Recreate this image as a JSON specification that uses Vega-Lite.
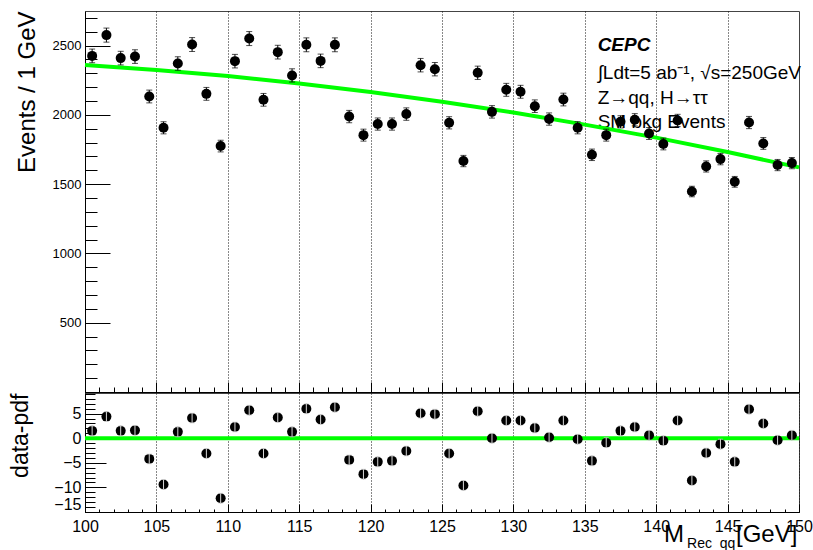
{
  "$schema": "https://vega.github.io/schema/vega-lite/v6.json",
  "background": "white",
  "padding": {"left": 8, "top": 10, "right": 0, "bottom": 0},
  "bounds": "flush",
  "spacing": 1,
  "config": {
    "font": "Liberation Sans",
    "view": {"stroke": "#444", "strokeWidth": 1},
    "axis": {
      "domainColor": "#000",
      "domainWidth": 1,
      "tickColor": "#000",
      "tickWidth": 1,
      "labelColor": "#000",
      "titleColor": "#000",
      "titleFontWeight": "normal",
      "labelFont": "Liberation Sans",
      "titleFont": "Liberation Sans",
      "grid": false
    }
  },
  "datasets": {
    "bins": [
      {"m": 100.5, "events": 2426, "err": 49.3, "pull": 1.5, "perr": 1},
      {"m": 101.5, "events": 2576, "err": 50.8, "pull": 4.4, "perr": 1},
      {"m": 102.5, "events": 2410, "err": 49.1, "pull": 1.5, "perr": 1},
      {"m": 103.5, "events": 2421, "err": 49.2, "pull": 1.6, "perr": 1},
      {"m": 104.5, "events": 2133, "err": 46.2, "pull": -4.2, "perr": 1},
      {"m": 105.5, "events": 1907, "err": 43.7, "pull": -9.4, "perr": 1},
      {"m": 106.5, "events": 2371, "err": 48.7, "pull": 1.3, "perr": 1},
      {"m": 107.5, "events": 2508, "err": 50.1, "pull": 4.1, "perr": 1},
      {"m": 108.5, "events": 2152, "err": 46.4, "pull": -3.1, "perr": 1},
      {"m": 109.5, "events": 1775, "err": 42.1, "pull": -12.2, "perr": 1},
      {"m": 110.5, "events": 2388, "err": 48.9, "pull": 2.3, "perr": 1},
      {"m": 111.5, "events": 2551, "err": 50.5, "pull": 5.7, "perr": 1},
      {"m": 112.5, "events": 2109, "err": 45.9, "pull": -3.1, "perr": 1},
      {"m": 113.5, "events": 2453, "err": 49.5, "pull": 4.2, "perr": 1},
      {"m": 114.5, "events": 2285, "err": 47.8, "pull": 1.3, "perr": 1},
      {"m": 115.5, "events": 2506, "err": 50.1, "pull": 6.0, "perr": 1},
      {"m": 116.5, "events": 2390, "err": 48.9, "pull": 3.8, "perr": 1},
      {"m": 117.5, "events": 2506, "err": 50.1, "pull": 6.3, "perr": 1},
      {"m": 118.5, "events": 1988, "err": 44.6, "pull": -4.4, "perr": 1},
      {"m": 119.5, "events": 1854, "err": 43.1, "pull": -7.3, "perr": 1},
      {"m": 120.5, "events": 1934, "err": 44.0, "pull": -4.8, "perr": 1},
      {"m": 121.5, "events": 1934, "err": 44.0, "pull": -4.6, "perr": 1},
      {"m": 122.5, "events": 2006, "err": 44.8, "pull": -2.6, "perr": 1},
      {"m": 123.5, "events": 2359, "err": 48.6, "pull": 5.1, "perr": 1},
      {"m": 124.5, "events": 2330, "err": 48.3, "pull": 4.9, "perr": 1},
      {"m": 125.5, "events": 1943, "err": 44.1, "pull": -3.1, "perr": 1},
      {"m": 126.5, "events": 1667, "err": 40.8, "pull": -9.6, "perr": 1},
      {"m": 127.5, "events": 2304, "err": 48.0, "pull": 5.5, "perr": 1},
      {"m": 128.5, "events": 2022, "err": 45.0, "pull": 0.0, "perr": 1},
      {"m": 129.5, "events": 2181, "err": 46.7, "pull": 3.6, "perr": 1},
      {"m": 130.5, "events": 2167, "err": 46.6, "pull": 3.6, "perr": 1},
      {"m": 131.5, "events": 2063, "err": 45.4, "pull": 2.1, "perr": 1},
      {"m": 132.5, "events": 1970, "err": 44.4, "pull": 0.2, "perr": 1},
      {"m": 133.5, "events": 2111, "err": 45.9, "pull": 3.6, "perr": 1},
      {"m": 134.5, "events": 1907, "err": 43.7, "pull": -0.2, "perr": 1},
      {"m": 135.5, "events": 1712, "err": 41.4, "pull": -4.6, "perr": 1},
      {"m": 136.5, "events": 1854, "err": 43.1, "pull": -0.9, "perr": 1},
      {"m": 137.5, "events": 1950, "err": 44.2, "pull": 1.5, "perr": 1},
      {"m": 138.5, "events": 1965, "err": 44.3, "pull": 2.3, "perr": 1},
      {"m": 139.5, "events": 1866, "err": 43.2, "pull": 0.6, "perr": 1},
      {"m": 140.5, "events": 1790, "err": 42.3, "pull": -0.5, "perr": 1},
      {"m": 141.5, "events": 1960, "err": 44.3, "pull": 3.6, "perr": 1},
      {"m": 142.5, "events": 1447, "err": 38.0, "pull": -8.6, "perr": 1},
      {"m": 143.5, "events": 1628, "err": 40.3, "pull": -3.0, "perr": 1},
      {"m": 144.5, "events": 1681, "err": 41.0, "pull": -1.2, "perr": 1},
      {"m": 145.5, "events": 1517, "err": 38.9, "pull": -4.8, "perr": 1},
      {"m": 146.5, "events": 1945, "err": 44.1, "pull": 5.9, "perr": 1},
      {"m": 147.5, "events": 1794, "err": 42.4, "pull": 3.0, "perr": 1},
      {"m": 148.5, "events": 1638, "err": 40.5, "pull": -0.4, "perr": 1},
      {"m": 149.5, "events": 1652, "err": 40.6, "pull": 0.6, "perr": 1}
    ],
    "fit": [
      {"m": 100, "events": 2361},
      {"m": 105, "events": 2324},
      {"m": 110, "events": 2280},
      {"m": 115, "events": 2226},
      {"m": 120, "events": 2165},
      {"m": 125, "events": 2095},
      {"m": 130, "events": 2017},
      {"m": 135, "events": 1930},
      {"m": 140, "events": 1836},
      {"m": 145, "events": 1732},
      {"m": 150, "events": 1621}
    ]
  },
  "vconcat": [
    {
      "width": 714,
      "height": 381,
      "resolve": {"axis": {"x": "independent", "y": "independent"}},
      "layer": [
        {
          "data": {"values": [{}]},
          "mark": {"type": "text", "align": "left", "baseline": "alphabetic", "fontSize": 19, "fontStyle": "italic", "fontWeight": "bold", "text": "CEPC", "color": "#000"},
          "encoding": {
            "x": {"datum": 135.9, "type": "quantitative",
                  "axis": {"orient": "bottom", "values": [100, 105, 110, 115, 120, 125, 130, 135, 140, 145, 150],
                           "tickSize": 10, "offset": -10, "labels": false, "domain": false, "title": null, "grid": false}},
            "y": {"datum": 2461, "type": "quantitative",
                  "axis": {"orient": "left", "values": [0, 500, 1000, 1500, 2000, 2500],
                           "tickSize": 25, "offset": -25, "labels": false, "domain": false, "title": null, "grid": false}}
          }
        },
        {
          "data": {"values": [{}]},
          "mark": {"type": "text", "align": "left", "baseline": "alphabetic", "fontSize": 19, "lineHeight": 24.5, "color": "#000",
                   "text": ["∫Ldt=5 ab⁻¹, √s=250GeV", "Z→qq, H→ττ", "SM bkg Events"]},
          "encoding": {
            "x": {"datum": 135.9, "type": "quantitative", "axis": null},
            "y": {"datum": 2259, "type": "quantitative", "axis": null}
          }
        },
        {
          "data": {"name": "fit"},
          "mark": {"type": "line", "color": "#00ff00", "strokeWidth": 4},
          "encoding": {
            "x": {"field": "m", "type": "quantitative",
                  "scale": {"domain": [100, 150], "nice": false, "zero": false},
                  "axis": {"orient": "bottom", "values": [100,101,102,103,104,105,106,107,108,109,110,111,112,113,114,115,116,117,118,119,120,121,122,123,124,125,126,127,128,129,130,131,132,133,134,135,136,137,138,139,140,141,142,143,144,145,146,147,148,149,150],
                           "tickSize": 5, "offset": -5, "labels": false, "domain": false, "title": null, "grid": false}},
            "y": {"field": "events", "type": "quantitative",
                  "scale": {"domain": [0, 2750], "nice": false, "zero": false},
                  "axis": {"orient": "left", "values": [100,200,300,400,500,600,700,800,900,1000,1100,1200,1300,1400,1500,1600,1700,1800,1900,2000,2100,2200,2300,2400,2500,2600,2700],
                           "tickSize": 12, "offset": -12, "labels": false, "domain": false, "title": null, "grid": false}}
          }
        },
        {
          "data": {"name": "bins"},
          "mark": {"type": "errorbar", "color": "#000", "thickness": 1, "ticks": {"size": 6, "thickness": 1, "color": "#000"}},
          "encoding": {
            "x": {"field": "m", "type": "quantitative", "axis": null},
            "y": {"field": "events", "type": "quantitative", "axis": null},
            "yError": {"field": "err"}
          }
        },
        {
          "data": {"name": "bins"},
          "mark": {"type": "circle", "size": 100, "color": "#000", "opacity": 1},
          "encoding": {
            "x": {"field": "m", "type": "quantitative",
                  "axis": {"orient": "bottom", "values": [105, 110, 115, 120, 125, 130, 135, 140, 145],
                           "ticks": false, "tickSize": 0, "labels": false, "title": null,
                           "grid": true, "gridDash": [1, 2], "gridColor": "#111", "gridWidth": 1, "gridOpacity": 1}},
            "y": {"field": "events", "type": "quantitative",
                  "axis": {"orient": "left", "values": [500, 1000, 1500, 2000, 2500], "format": "d",
                           "ticks": false, "tickSize": 0, "labelPadding": 4, "labelFontSize": 13, "labelFlush": false,
                           "title": "Events / 1 GeV", "titleFontSize": 24, "titleAnchor": "end", "titleX": -46}}
          }
        }
      ]
    },
    {
      "width": 714,
      "height": 119,
      "resolve": {"axis": {"x": "independent", "y": "independent"}},
      "layer": [
        {
          "data": {"values": [{}]},
          "mark": {"type": "rule", "color": "#00ff00", "strokeWidth": 4},
          "encoding": {
            "y": {"datum": 0, "type": "quantitative",
                  "scale": {"domain": [-15, 9.2], "nice": false, "zero": false},
                  "axis": {"orient": "left", "values": [-15,-14,-13,-12,-11,-10,-9,-8,-7,-6,-5,-4,-3,-2,-1,0,1,2,3,4,5,6,7,8,9],
                           "tickSize": 10, "offset": -10, "labels": false, "domain": false, "title": null, "grid": false}}
          }
        },
        {
          "data": {"values": [{}]},
          "mark": {"type": "text", "align": "left", "baseline": "alphabetic", "fontSize": 24, "text": "M", "color": "#000"},
          "encoding": {
            "x": {"datum": 140.55, "type": "quantitative",
                  "scale": {"domain": [100, 150], "nice": false, "zero": false},
                  "axis": {"orient": "bottom", "values": [100,101,102,103,104,105,106,107,108,109,110,111,112,113,114,115,116,117,118,119,120,121,122,123,124,125,126,127,128,129,130,131,132,133,134,135,136,137,138,139,140,141,142,143,144,145,146,147,148,149,150],
                           "tickSize": 3, "offset": -3, "labels": false, "domain": false, "title": null, "grid": false}},
            "y": {"datum": -21.1, "type": "quantitative",
                  "axis": {"orient": "left", "values": [-15, -10, -5, 0, 5],
                           "tickSize": 21, "offset": -21, "labels": false, "domain": false, "title": null, "grid": false}}
          }
        },
        {
          "data": {"values": [{}]},
          "mark": {"type": "text", "align": "left", "baseline": "alphabetic", "fontSize": 14, "text": "Rec_qq", "color": "#000"},
          "encoding": {
            "x": {"datum": 142.16, "type": "quantitative",
                  "axis": {"orient": "bottom", "values": [100, 105, 110, 115, 120, 125, 130, 135, 140, 145, 150],
                           "tickSize": 8, "offset": -8, "labels": false, "domain": false, "title": null, "grid": false}},
            "y": {"datum": -22.3, "type": "quantitative", "axis": null}
          }
        },
        {
          "data": {"values": [{}]},
          "mark": {"type": "text", "align": "left", "baseline": "alphabetic", "fontSize": 24, "text": "[GeV]", "color": "#000"},
          "encoding": {
            "x": {"datum": 145.59, "type": "quantitative", "axis": null},
            "y": {"datum": -21.1, "type": "quantitative", "axis": null}
          }
        },
        {
          "data": {"name": "bins"},
          "mark": {"type": "circle", "size": 100, "color": "#000", "opacity": 1},
          "encoding": {
            "x": {"field": "m", "type": "quantitative",
                  "axis": {"orient": "bottom", "values": [100, 105, 110, 115, 120, 125, 130, 135, 140, 145, 150],
                           "ticks": false, "tickSize": 0, "labelPadding": 6, "labelFontSize": 16, "labelFlush": false, "title": null,
                           "grid": true, "gridDash": [1, 2], "gridColor": "#111", "gridWidth": 1, "gridOpacity": 1}},
            "y": {"field": "pull", "type": "quantitative",
                  "axis": {"orient": "left", "values": [-15, -10, -5, 0, 5], "format": "d",
                           "ticks": false, "tickSize": 0, "labelPadding": 4, "labelFontSize": 16, "labelFlush": true,
                           "title": "data-pdf", "titleFontSize": 23, "titleAnchor": "end", "titleX": -53}}
          }
        },
        {
          "data": {"name": "bins"},
          "mark": {"type": "errorbar", "color": "#d8d8d8", "thickness": 1, "ticks": {"size": 5, "thickness": 1, "color": "#d8d8d8"}},
          "encoding": {
            "x": {"field": "m", "type": "quantitative", "axis": null},
            "y": {"field": "pull", "type": "quantitative", "axis": null},
            "yError": {"field": "perr"}
          }
        }
      ]
    }
  ]
}
